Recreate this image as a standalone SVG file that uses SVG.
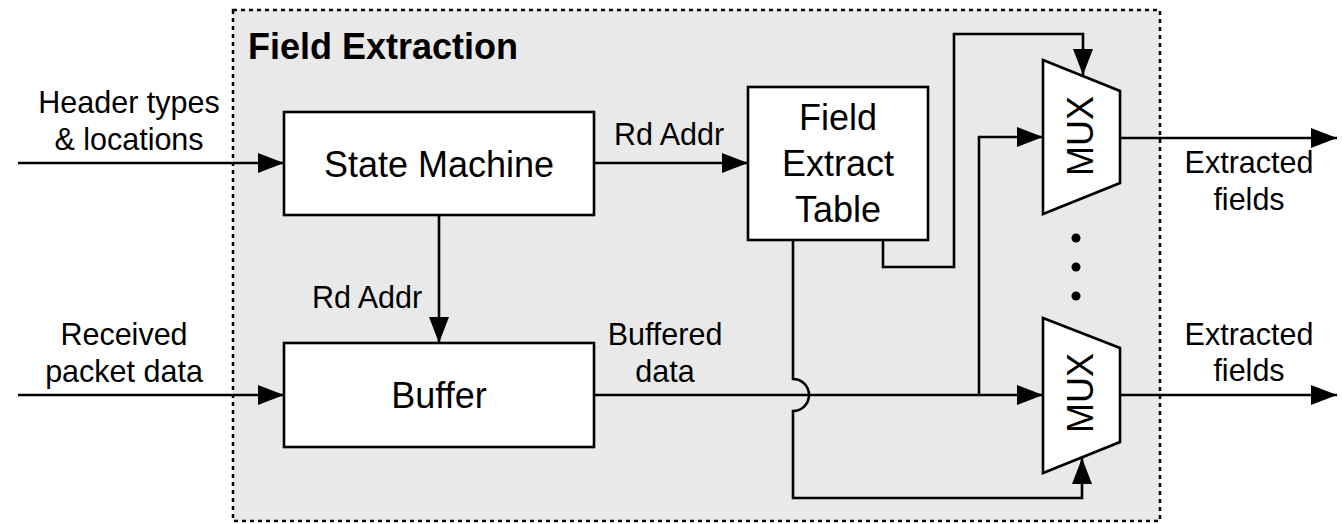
<svg xmlns="http://www.w3.org/2000/svg" width="1342" height="524" viewBox="0 0 1342 524">
<style>
.t{font-family:"Liberation Sans",Arial,sans-serif;fill:#000}
.lbl{font-size:30.5px;text-anchor:middle}
.box{font-size:36px;text-anchor:middle}
.blk{fill:#fff;stroke:#000;stroke-width:2.6}
.w{fill:none;stroke:#000;stroke-width:2.6}
.arr{marker-end:url(#ah)}
</style>
<defs>
<marker id="ah" viewBox="0 0 26 20" refX="26" refY="10" markerWidth="26" markerHeight="20" markerUnits="userSpaceOnUse" orient="auto">
<path d="M0,0 L26,10 L0,20 z" fill="#000"/>
</marker>
</defs>
<rect width="1342" height="524" fill="#fff"/>
<g id="field-extraction">
<rect x="233" y="10" width="927" height="511" fill="#e9e9e9" stroke="#000" stroke-width="2.5" stroke-dasharray="4 4"/>
<text class="t" x="248" y="59" font-size="36" font-weight="bold">Field Extraction</text>
</g>
<g id="connectors">
<path class="w arr" d="M18,163 H284"/>
<path class="w arr" d="M18,395 H284"/>
<path class="w arr" d="M594,163 H748"/>
<path class="w arr" d="M439,215 V343"/>
<path class="w arr" d="M594,395 H1043"/>
<path class="w arr" d="M979,395 V137 H1043"/>
<path class="w arr" d="M883,240 V267 H954 V34 H1083 V75"/>
<path class="w arr" d="M793,240 V379 A16,16 0 0 1 793,411 V498 H1082 V458"/>
<path class="w arr" d="M1120,138 H1337"/>
<path class="w arr" d="M1120,395 H1337"/>
<text class="t lbl" x="129" y="113">Header types</text>
<text class="t lbl" x="129" y="150">&amp; locations</text>
<text class="t lbl" x="124" y="345">Received</text>
<text class="t lbl" x="124" y="382">packet data</text>
<text class="t lbl" x="669" y="145">Rd Addr</text>
<text class="t lbl" x="367" y="308">Rd Addr</text>
<text class="t lbl" x="665" y="345">Buffered</text>
<text class="t lbl" x="665" y="382">data</text>
<text class="t lbl" x="1249" y="173">Extracted</text>
<text class="t lbl" x="1249" y="210">fields</text>
<text class="t lbl" x="1249" y="345">Extracted</text>
<text class="t lbl" x="1249" y="381">fields</text>
<circle cx="1076" cy="238" r="4.5" fill="#000"/>
<circle cx="1076" cy="267" r="4.5" fill="#000"/>
<circle cx="1076" cy="296" r="4.5" fill="#000"/>
</g>
<g id="state-machine">
<rect class="blk" x="284" y="112" width="310" height="103"/>
<text class="t box" x="439" y="177">State Machine</text>
</g>
<g id="buffer">
<rect class="blk" x="284" y="343" width="310" height="104"/>
<text class="t box" x="439" y="408">Buffer</text>
</g>
<g id="field-extract-table">
<rect class="blk" x="748" y="87" width="180" height="153"/>
<text class="t box" x="838" y="130">Field</text>
<text class="t box" x="838" y="176">Extract</text>
<text class="t box" x="838" y="222">Table</text>
</g>
<g id="mux-1">
<polygon class="blk" points="1043,60 1120,91 1120,183 1043,214"/>
<text class="t box" font-size="35" transform="translate(1093,136) rotate(-90)">MUX</text>
</g>
<g id="mux-2">
<polygon class="blk" points="1043,318 1120,348 1120,442 1043,473"/>
<text class="t box" font-size="35" transform="translate(1093,393) rotate(-90)">MUX</text>
</g>
</svg>
